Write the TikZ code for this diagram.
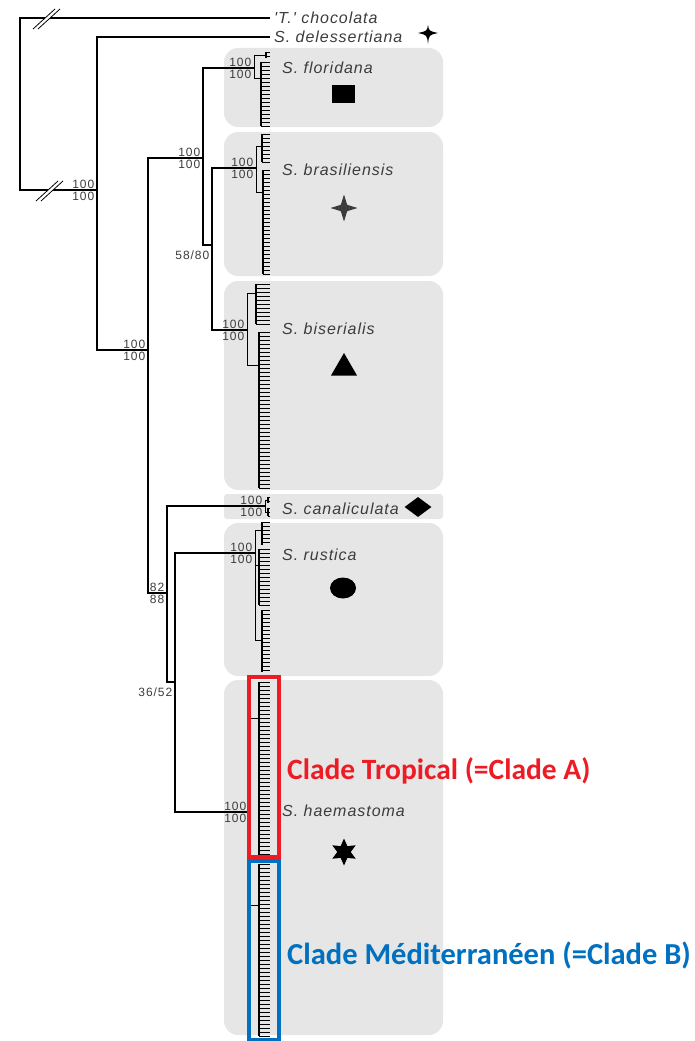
\documentclass[tikz,border=0pt]{standalone}
\usepackage{fontspec}
\setmainfont{Liberation Sans}
\newfontfamily\spfont[LetterSpace=6]{Liberation Sans}
\newfontfamily\bootfont[LetterSpace=8]{Liberation Sans}
\newfontfamily\cladefont{Carlito}
\usetikzlibrary{shapes.geometric}
\definecolor{boxgray}{RGB}{230,230,230}
\definecolor{txtgray}{RGB}{60,60,60}
\definecolor{cladered}{RGB}{237,28,36}
\definecolor{cladeblue}{RGB}{0,112,192}
\begin{document}
\begin{tikzpicture}[x=1pt, y=-1pt, line join=miter,
    branch/.style={line width=1.1pt, black},
    tip/.style={line width=0.8pt, black},
    species/.style={font=\spfont\itshape\fontsize{16}{18}\selectfont, text=txtgray, anchor=west, inner ysep=0pt, inner xsep=4pt},
    boot/.style={font=\bootfont\fontsize{12}{13}\selectfont, text=txtgray, inner sep=0.5pt},
    panel/.style={fill=boxgray, rounded corners=14pt},
    clade/.style={font=\cladefont\bfseries\fontsize{29.5}{31}\selectfont, anchor=west, inner sep=0pt},
    symbol/.style={fill=black, inner sep=0pt}]
    \useasboundingbox (0,0) rectangle (695,1041);
    % grey panels behind the species
    \foreach \yt/\yb in {48/127, 132/276, 281/490, 523/676, 680/1035}
        \fill[panel] (224,\yt) rectangle (443,\yb);
    \fill[boxgray, rounded corners=3pt] (224,494) rectangle (443,519);
    % inner nodes of the tree
    \coordinate (nRoot) at (20,104);
    \coordinate (nIn)   at (97,190);
    \coordinate (nSte)  at (148,350);
    \coordinate (nFBB)  at (203,158);
    \coordinate (nBB)   at (212,245);
    \coordinate (nCRH)  at (167,593);
    \coordinate (nRH)   at (175,682);
    \coordinate (cFlo)  at (254,68);
    \coordinate (cBra)  at (256,168);
    \coordinate (cBis)  at (247,330);
    \coordinate (cCan)  at (265,506);
    \coordinate (cRus)  at (255,553);
    \coordinate (cHae)  at (249,812);
    \node[species] (tChoc) at (270,18) {'T.' chocolata};
    \node[species] (tDel)  at (270,37) {S. delessertiana};
    \foreach \a/\b in {nRoot/tChoc.west, nRoot/nIn, nIn/tDel.west, nIn/nSte,
        nSte/nFBB, nSte/nCRH, nFBB/cFlo, nFBB/nBB, nBB/cBra, nBB/cBis,
        nCRH/cCan, nCRH/nRH, nRH/cRus, nRH/cHae}
        \draw[branch] (\a) |- (\b);
    % tips of each clade
    \foreach \c/\gt/\gb/\gx/\gc/\id in {
        cFlo/52/58/266/55/1, cFlo/62/126/261/78/2,
        cBra/134/162/262/146/3, cBra/170/274/263/192/4,
        cBis/284/324/256/293/5, cBis/332/488/259/365/6,
        cCan/497/503/268/500/7, cCan/508/516/268/512/8,
        cRus/522/545/262/530/9, cRus/549/605/259/565/10, cRus/610/672/262/640/11,
        cHae/682/856/259/718/12, cHae/864/1036/259/905/13%
    } {
        \coordinate (g\id) at (\gx,\gc);
        \draw[tip] (\c) |- (g\id);
        \draw[line width=1.5pt] (\gx,\gt) -- (\gx,\gb);
        \pgfmathsetmacro\gn{\gt+4}
        \foreach \ty in {\gt,\gn,...,\gb}
            \draw[tip] (\gx,\ty) -- (270,\ty);
    }
    % break marks on the outgroup branches
    \foreach \bx/\by in {47/19, 50/191} {
        \fill[white] (\bx-14,\by+10) -- (\bx+8,\by-10) -- (\bx+13,\by-10) -- (\bx-9,\by+10) -- cycle;
        \draw[line width=0.8pt] (\bx-14,\by+10) -- (\bx+8,\by-10);
        \draw[line width=0.8pt] (\bx-9,\by+10) -- (\bx+13,\by-10);
    }
    % support values
    \foreach \c/\up/\dn in {nIn/100/100, nSte/100/100, nFBB/100/100, cFlo/100/100,
        cBra/100/100, cBis/100/100, cCan/100/100, cRus/100/100, cHae/100/100, nCRH/82/88} {
        \node[boot, anchor=south east] (u\c) at ([shift={(-2,-1)}]\c) {\up};
        \node[boot, anchor=north east] (d\c) at ([shift={(-2,1)}]\c) {\dn};
    }
    \foreach \c/\val in {nBB/58{/}80, nRH/36{/}52}
        \node[boot, anchor=north east] (d\c) at ([shift={(-2,5)}]\c) {\val};
    % species names and symbols
    \foreach \y/\id/\text in {68/Flo/S. floridana, 170/Bra/S. brasiliensis,
        329/Bis/S. biserialis, 509/Can/S. canaliculata, 555/Rus/S. rustica,
        811/Hae/S. haemastoma}
        \node[species] (l\id) at (278,\y) {\text};
    \node[symbol, minimum width=23pt, minimum height=18pt] (sFlo) at (343,94) {};
    \node[symbol, fill=txtgray, star, star points=4, star point ratio=3, minimum size=27pt] (sBra) at (344,208) {};
    \node[symbol, regular polygon, regular polygon sides=3, minimum size=30pt] (sBis) at (344,368) {};
    \node[symbol, diamond, minimum width=27pt, minimum height=20pt] (sCan) at (418,507) {};
    \node[symbol, ellipse, minimum width=26pt, minimum height=21pt] (sRus) at (343,588) {};
    \node[symbol, star, star points=6, star point ratio=2, minimum size=27pt] (sHae) at (344,852) {};
    \fill (428,25) .. controls (429,31) .. (438,33) .. controls (429,35) .. (428,44)
        .. controls (427,35) .. (418,33) .. controls (427,31) .. (428,25);
    % the two clades of S. haemastoma
    \draw[cladered, line width=3.5pt] (249,677) rectangle (279,857);
    \draw[cladeblue, line width=3.5pt] (249,861) rectangle (279,1040);
    \node[clade, text=cladered] (lTrop) at (287,771) {Clade Tropical (=Clade A)};
    \node[clade, text=cladeblue, font=\cladefont\bfseries\fontsize{30.5}{32}\selectfont] (lMedi) at (287,955) {Clade Méditerranéen (=Clade B)};
\end{tikzpicture}
\end{document}
